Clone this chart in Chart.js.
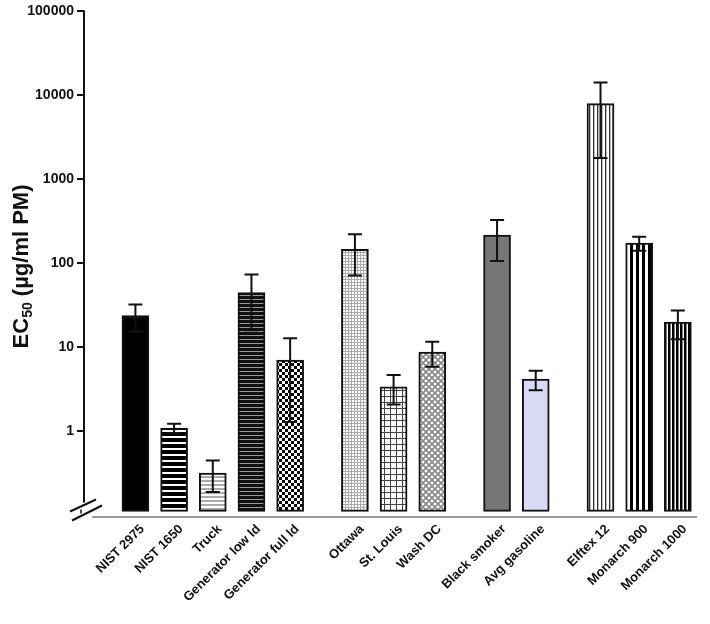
<!DOCTYPE html>
<html>
<head>
<meta charset="utf-8">
<script src="https://cdn.jsdelivr.net/npm/chart.js@4.4.1/dist/chart.umd.min.js"></script>
<style>
  html, body { margin: 0; padding: 0; background: #fff; }
  #wrap { width: 710px; height: 624px; }
</style>
</head>
<body>
<div id="wrap"><canvas id="ec50-canvas" width="710" height="624"></canvas></div>
<script>
(function() {
    'use strict';

    // samples, grouped (reference PM / ambient / vehicle / carbon black)
    var sampleNames = ['NIST 2975', 'NIST 1650', 'Truck', 'Generator low ld', 'Generator full ld',
        'Ottawa', 'St. Louis', 'Wash DC',
        'Black smoker', 'Avg gasoline',
        'Elftex 12', 'Monarch 900', 'Monarch 1000'];
    var sampleGroups = [0, 0, 0, 0, 0, 1, 1, 1, 2, 2, 3, 3, 3];
    var ec50Values = [24, 1.1, 0.32, 45, 7.1, 147, 3.4, 8.8, 218, 4.2, 8000, 175, 20];
    var ec50Errors = [8.5, 0.14, 0.13, 29, 5.8, 75, 1.3, 2.9, 111, 1.1, 6200, 33, 7.5];
    var yTickValues = [1, 10, 100, 1000, 10000, 100000];

    var FONT = '"Liberation Sans", Arial, sans-serif';
    var GROUP_GAP = 0.675;

    var canvas = document.getElementById('ec50-canvas');
    var ctx = canvas.getContext('2d');

    function makePattern(w, h, draw) {
        var c = document.createElement('canvas');
        c.width = w;
        c.height = h;
        var g = c.getContext('2d');
        g.fillStyle = '#fff';
        g.fillRect(0, 0, w, h);
        draw(g);
        return ctx.createPattern(c, 'repeat');
    }

    var barFills = [
        '#000',
        makePattern(6, 6, function(g) { g.fillStyle = '#000'; g.fillRect(0, 0, 6, 4); }),
        makePattern(4, 4, function(g) { g.fillStyle = '#aaa'; g.fillRect(0, 0, 4, 2); }),
        makePattern(4, 4, function(g) { g.fillStyle = '#999'; g.fillRect(0, 0, 4, 4); g.fillStyle = '#111'; g.fillRect(0, 0, 4, 3); }),
        makePattern(6, 6, function(g) { g.fillStyle = '#000'; g.fillRect(0, 0, 3, 3); g.fillRect(3, 3, 3, 3); }),
        makePattern(3, 3, function(g) { g.fillStyle = '#aaa'; g.fillRect(0, 0, 3, 1); g.fillRect(0, 0, 1, 3); }),
        makePattern(6, 6, function(g) { g.fillStyle = '#444'; g.fillRect(0, 0, 6, 1); g.fillRect(0, 0, 1, 6); }),
        makePattern(6, 6, function(g) {
            g.strokeStyle = '#888';
            g.lineWidth = 1.6;
            g.beginPath();
            g.moveTo(-1, -1); g.lineTo(7, 7);
            g.moveTo(7, -1); g.lineTo(-1, 7);
            g.stroke();
        }),
        '#777',
        '#dadaf7',
        makePattern(4, 4, function(g) { g.fillStyle = '#333'; g.fillRect(1, 0, 1, 4); g.fillStyle = '#bbb'; g.fillRect(2, 0, 1, 4); }),
        makePattern(6, 6, function(g) { g.fillStyle = '#000'; g.fillRect(0, 0, 3, 6); }),
        makePattern(4, 4, function(g) { g.fillStyle = '#000'; g.fillRect(0, 0, 2.5, 4); })
    ];

    var barPoints = ec50Values.map(function(v, i) {
        return { x: i + sampleGroups[i] * GROUP_GAP, y: v };
    });

    var axesPlugin = {
        id: 'axesAndBreak',
        afterDraw: function(chart) {
            var area = chart.chartArea;
            var c = chart.ctx;
            c.save();
            // y axis (stops short of the break)
            c.strokeStyle = '#111';
            c.lineWidth = 2;
            c.beginPath();
            c.moveTo(area.left, area.top - 1);
            c.lineTo(area.left, area.bottom - 13);
            c.stroke();
            // break marks
            c.beginPath();
            c.moveTo(area.left - 14, area.bottom - 4);
            c.lineTo(area.left + 12, area.bottom - 16);
            c.moveTo(area.left - 12, area.bottom + 5);
            c.lineTo(area.left + 18, area.bottom - 10);
            c.stroke();
            c.lineWidth = 1.5;
            c.beginPath();
            c.moveTo(area.left - 3, area.bottom - 6);
            c.lineTo(area.left - 3, area.bottom - 2);
            c.stroke();
            // x axis
            c.strokeStyle = '#9a9a9a';
            c.lineWidth = 2;
            c.beginPath();
            c.moveTo(area.left + 8, area.bottom + 1.5);
            c.lineTo(area.right, area.bottom + 1.5);
            c.stroke();
            // y title with subscript
            var cy = (area.top + area.bottom) / 2 + 3;
            c.translate(28, cy);
            c.rotate(-Math.PI / 2);
            c.fillStyle = '#111';
            c.textAlign = 'left';
            c.textBaseline = 'alphabetic';
            var big = 'bold 22px ' + FONT, small = 'bold 14px ' + FONT;
            c.font = big;
            var w1 = c.measureText('EC').width;
            var w3 = c.measureText(' (\u00b5g/ml PM)').width;
            c.font = small;
            var w2 = c.measureText('50').width;
            var x0 = -(w1 + w2 + w3) / 2;
            c.font = big;
            c.fillText('EC', x0, 0);
            c.font = small;
            c.fillText('50', x0 + w1, 4);
            c.font = big;
            c.fillText(' (\u00b5g/ml PM)', x0 + w1 + w2, 0);
            c.restore();
        }
    };

    var errorBarPlugin = {
        id: 'errorBars',
        afterDatasetsDraw: function(chart) {
            var meta = chart.getDatasetMeta(0);
            var yScale = chart.scales.y;
            var c = chart.ctx;
            c.save();
            c.strokeStyle = '#111';
            c.lineWidth = 2;
            meta.data.forEach(function(bar, i) {
                var v = ec50Values[i], e = ec50Errors[i];
                var yHi = yScale.getPixelForValue(v + e);
                var yLo = yScale.getPixelForValue(Math.max(v - e, 0.12));
                var half = 7;
                c.beginPath();
                c.moveTo(bar.x, yHi);
                c.lineTo(bar.x, yLo);
                c.moveTo(bar.x - half, yHi);
                c.lineTo(bar.x + half, yHi);
                c.moveTo(bar.x - half, yLo);
                c.lineTo(bar.x + half, yLo);
                c.stroke();
            });
            c.restore();
        }
    };

    new Chart(ctx, {
        type: 'bar',
        data: {
            datasets: [{
                data: barPoints,
                backgroundColor: barFills,
                borderColor: '#111',
                borderWidth: 2,
                borderSkipped: false,
                barThickness: 27,
                base: 0.112
            }]
        },
        options: {
            responsive: false,
            animation: false,
            layout: { padding: { top: 11, right: 13, left: 0, bottom: 0 } },
            plugins: {
                legend: { display: false },
                tooltip: { enabled: false }
            },
            scales: {
                x: {
                    type: 'linear',
                    offset: false,
                    min: -1.33,
                    max: 14.52,
                    grid: { display: false, drawTicks: false },
                    border: { display: false },
                    afterBuildTicks: function(axis) {
                        axis.ticks = barPoints.map(function(p) { return { value: p.x }; });
                    },
                    afterFit: function(axis) { axis.height = 108.5; },
                    ticks: {
                        autoSkip: false,
                        minRotation: 45,
                        maxRotation: 45,
                        padding: 6,
                        labelOffset: 7,
                        color: '#111',
                        font: { family: FONT, size: 13, weight: 'bold' },
                        callback: function(value, index) { return sampleNames[index]; }
                    }
                },
                y: {
                    type: 'logarithmic',
                    min: 0.1,
                    max: 100000,
                    border: { display: false },
                    grid: { display: true, drawOnChartArea: false, drawTicks: true, tickLength: 7, color: '#111', lineWidth: 2 },
                    afterBuildTicks: function(axis) {
                        axis.ticks = yTickValues.map(function(v) { return { value: v }; });
                    },
                    afterFit: function(axis) { axis.width = 84; },
                    ticks: {
                        padding: 3,
                        color: '#111',
                        font: { family: FONT, size: 14, weight: 'bold' },
                        callback: function(value) { return String(value); }
                    }
                }
            }
        },
        plugins: [axesPlugin, errorBarPlugin]
    });
})();
</script>
</body>
</html>
